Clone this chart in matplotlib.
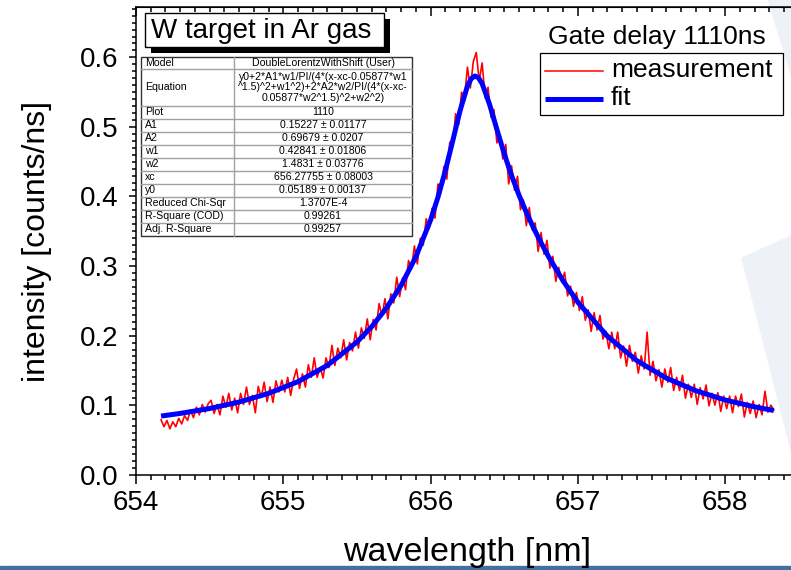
import numpy as np
import matplotlib.pyplot as plt
from matplotlib.patches import Rectangle, Polygon
from matplotlib.lines import Line2D
from matplotlib.ticker import MultipleLocator

plt.rcParams['font.family'] = ['Liberation Sans', 'DejaVu Sans']

# measured spectrum, one value every 0.02 nm starting at 654.17 nm
wl_start = 654.17
wl_step = 0.02
intensity = [
    0.079, 0.069, 0.078, 0.066, 0.076, 0.069, 0.081, 0.073, 0.085, 0.078,
    0.093, 0.082, 0.097, 0.086, 0.101, 0.090, 0.102,
    0.107, 0.088, 0.101, 0.086, 0.113, 0.097, 0.117, 0.093, 0.110, 0.089,
    0.117, 0.101, 0.126, 0.101, 0.114, 0.089, 0.127, 0.111, 0.133, 0.105,
    0.126, 0.104, 0.135, 0.119, 0.136,
    0.119, 0.140, 0.114, 0.137, 0.152, 0.124, 0.145, 0.126, 0.158, 0.140,
    0.168, 0.140, 0.154, 0.139, 0.168, 0.154, 0.186, 0.157, 0.182, 0.168,
    0.194, 0.165, 0.190, 0.178, 0.205,
    0.182, 0.211, 0.196, 0.224, 0.194, 0.223, 0.208, 0.246, 0.228, 0.253,
    0.224, 0.260, 0.247, 0.284, 0.256, 0.283, 0.266, 0.308, 0.296, 0.329,
    0.303, 0.340, 0.330, 0.368, 0.354,
    0.383, 0.369, 0.418, 0.406, 0.443, 0.425, 0.478, 0.473, 0.519, 0.503,
    0.550, 0.541, 0.586, 0.556, 0.594,
    0.607, 0.566, 0.592, 0.542, 0.557, 0.514, 0.525, 0.477, 0.488, 0.454,
    0.475, 0.418, 0.444, 0.409, 0.429, 0.381, 0.395, 0.358, 0.384, 0.352,
    0.362, 0.321, 0.348, 0.317, 0.337, 0.297, 0.314, 0.278, 0.298, 0.277,
    0.291, 0.257, 0.271, 0.242, 0.262,
    0.236, 0.256, 0.222, 0.237, 0.206, 0.233, 0.208, 0.229, 0.195, 0.206,
    0.181, 0.205, 0.181, 0.205, 0.168, 0.185, 0.156, 0.186, 0.163, 0.176,
    0.146, 0.171, 0.152, 0.205, 0.143,
    0.163, 0.135, 0.151, 0.126, 0.152, 0.133, 0.154, 0.121, 0.140, 0.121,
    0.143, 0.110, 0.130, 0.111, 0.130, 0.101, 0.125, 0.109, 0.129, 0.099,
    0.117, 0.100, 0.118, 0.091, 0.113,
    0.095, 0.113, 0.089, 0.113, 0.098, 0.116, 0.083, 0.104, 0.088, 0.106,
    0.082, 0.101, 0.086, 0.120, 0.090, 0.100, 0.093,
]
wavelength = wl_start + wl_step * np.arange(len(intensity))

# fitted curve
fit_wl = [654.17, 654.3, 654.5, 654.7, 654.9, 655.1, 655.3, 655.5, 655.6,
          655.7, 655.8, 655.9, 656.0, 656.05, 656.1, 656.15, 656.2, 656.25,
          656.275, 656.3, 656.325, 656.35, 656.4, 656.45, 656.5, 656.55,
          656.6, 656.65, 656.7, 656.75, 656.8, 656.9, 657.0, 657.2, 657.4,
          657.6, 657.8, 658.0, 658.2, 658.33]
fit_int = [0.0843, 0.0881, 0.0952, 0.1045, 0.1169, 0.1338, 0.1573, 0.1908,
           0.2128, 0.2395, 0.2723, 0.3133, 0.3662, 0.3990, 0.4371, 0.4798,
           0.5234, 0.5587, 0.5692, 0.5733, 0.5707, 0.5622, 0.5326, 0.4965,
           0.4614, 0.4299, 0.4020, 0.3770, 0.3543, 0.3333, 0.3138, 0.2786,
           0.2479, 0.1992, 0.1640, 0.1389, 0.1208, 0.1074, 0.0975, 0.0923]

table_labels = ["Model", "Equation", "Plot", "A1", "A2", "w1", "w2", "xc", "y0",
                "Reduced Chi-Sqr", "R-Square (COD)", "Adj. R-Square"]
table_values = ["DoubleLorentzWithShift (User)",
                "y0+2*A1*w1/PI/(4*(x-xc-0.05877*w1\n^1.5)^2+w1^2)+2*A2*w2/PI/(4*(x-xc-\n0.05877*w2^1.5)^2+w2^2)",
                "1110", "0.15227 \u00b1 0.01177", "0.69679 \u00b1 0.0207",
                "0.42841 \u00b1 0.01806", "1.4831 \u00b1 0.03776",
                "656.27755 \u00b1 0.08003", "0.05189 \u00b1 0.00137",
                "1.3707E-4", "0.99261", "0.99257"]

W, H = 791, 570
fig = plt.figure(figsize=(W / 100, H / 100), dpi=100)


def fx(px):
    return px / W


def fy(py):
    return 1 - py / H


# faint watermark shapes behind the plot
wm = '#eef1f8'
fig.add_artist(Polygon([(fx(768), fy(0)), (fx(791), fy(0)), (fx(791), fy(75))],
                       closed=True, color=wm, zorder=0))
fig.add_artist(Polygon([(fx(742), fy(258)), (fx(791), fy(236)), (fx(791), fy(450))],
                       closed=True, color=wm, zorder=0))
fig.add_artist(Rectangle((0, 0), 1, 4 / H, color='#41719c', zorder=0))

x0, x1 = 654, 658.5
px_per_nm = 147.3
ax = fig.add_axes([fx(136), fy(474.7), (x1 - x0) * px_per_nm / W, (474.7 - 7.3) / H])
ax.patch.set_alpha(0)

ax.plot(wavelength, intensity, color='red', lw=1.2, zorder=2)
ax.plot(fit_wl, fit_int, color='blue', lw=3.6, solid_capstyle='butt', zorder=3)

ax.set_xlim(x0, x1)
ax.set_ylim(0, 0.672)
ax.xaxis.set_major_locator(MultipleLocator(1))
ax.xaxis.set_minor_locator(MultipleLocator(0.1))
ax.yaxis.set_major_locator(MultipleLocator(0.1))
ax.yaxis.set_minor_locator(MultipleLocator(0.01))
ax.yaxis.set_major_formatter(plt.FormatStrFormatter('%.1f'))
for s in ax.spines.values():
    s.set_linewidth(1.1)
ax.tick_params(axis='both', which='both', direction='out', width=1.1,
               labelsize=20, top=False, right=False)
ax.tick_params(axis='x', which='major', length=6.3, pad=5)
ax.tick_params(axis='x', which='minor', length=3.4)
ax.tick_params(axis='y', which='major', length=5.0, pad=7.5)
ax.tick_params(axis='y', which='minor', length=3.0)

secx = ax.secondary_xaxis('top')
secx.xaxis.set_major_locator(MultipleLocator(1))
secx.xaxis.set_minor_locator(MultipleLocator(0.1))
secx.tick_params(which='both', direction='in', width=1.1, labeltop=False)
secx.tick_params(which='major', length=6.3)
secx.tick_params(which='minor', length=3.4)
secy = ax.secondary_yaxis('right')
secy.yaxis.set_major_locator(MultipleLocator(0.1))
secy.yaxis.set_minor_locator(MultipleLocator(0.01))
secy.tick_params(which='both', direction='in', width=1.1, labelright=False)
secy.tick_params(which='major', length=5.0)
secy.tick_params(which='minor', length=0)

ax.set_xlabel('wavelength [nm]', fontsize=24.5, labelpad=14.5)
ax.set_ylabel('intensity [counts/ns]', fontsize=23, labelpad=20)

# title box with drop shadow
fig.add_artist(Rectangle((fx(151), fy(53)), fx(239), 34 / H, facecolor='black',
                         edgecolor='none', zorder=5))
fig.add_artist(Rectangle((fx(145), fy(47)), fx(239), 34 / H, facecolor='white',
                         edgecolor='black', lw=1.0, zorder=6))
fig.text(fx(151), fy(31), 'W target in Ar gas', fontsize=20, ha='left',
         va='center', zorder=7)

# fit results table
t_left, t_mid, t_right, t_top = 141, 234, 412, 56.7
heights = [12.6, 36.4] + [13.0] * 10
t_bottom = t_top + sum(heights)
fig.add_artist(Rectangle((fx(t_left), fy(t_bottom)), fx(t_right - t_left),
                         (t_bottom - t_top) / H, facecolor='white',
                         edgecolor='#333333', lw=1.0, zorder=5))
fig.add_artist(Line2D([fx(t_mid), fx(t_mid)], [fy(t_top), fy(t_bottom)],
                      color='#a0a0a0', lw=1.0, zorder=6))
y = t_top
for lab, val, h in zip(table_labels, table_values, heights):
    yc = y + h / 2
    fig.text(fx(t_left + 4), fy(yc), lab, fontsize=7.6, ha='left', va='center',
             zorder=7)
    fig.text(fx((t_mid + t_right) / 2), fy(yc), val, fontsize=7.6, ha='center',
             va='center', linespacing=1.05, zorder=7)
    y += h
    if y < t_bottom - 1:
        fig.add_artist(Line2D([fx(t_left), fx(t_right)], [fy(y), fy(y)],
                              color='#a0a0a0', lw=1.0, zorder=6))

# legend
fig.text(fx(657), fy(37), 'Gate delay 1110ns', fontsize=19, ha='center',
         va='center', zorder=7)
fig.add_artist(Rectangle((fx(540), fy(115)), fx(243), 62 / H, facecolor='white',
                         edgecolor='black', lw=0.9, zorder=5))
fig.add_artist(Line2D([fx(545), fx(603)], [fy(71), fy(71)], color='red',
                      lw=1.1, zorder=6))
fig.add_artist(Line2D([fx(545), fx(603)], [fy(99), fy(99)], color='blue',
                      lw=3.6, solid_capstyle='butt', zorder=6))
fig.text(fx(611), fy(70), 'measurement', fontsize=19, ha='left', va='center',
         zorder=7)
fig.text(fx(611), fy(98), 'fit', fontsize=19, ha='left', va='center', zorder=7)

fig.savefig('out.png', dpi=100)
